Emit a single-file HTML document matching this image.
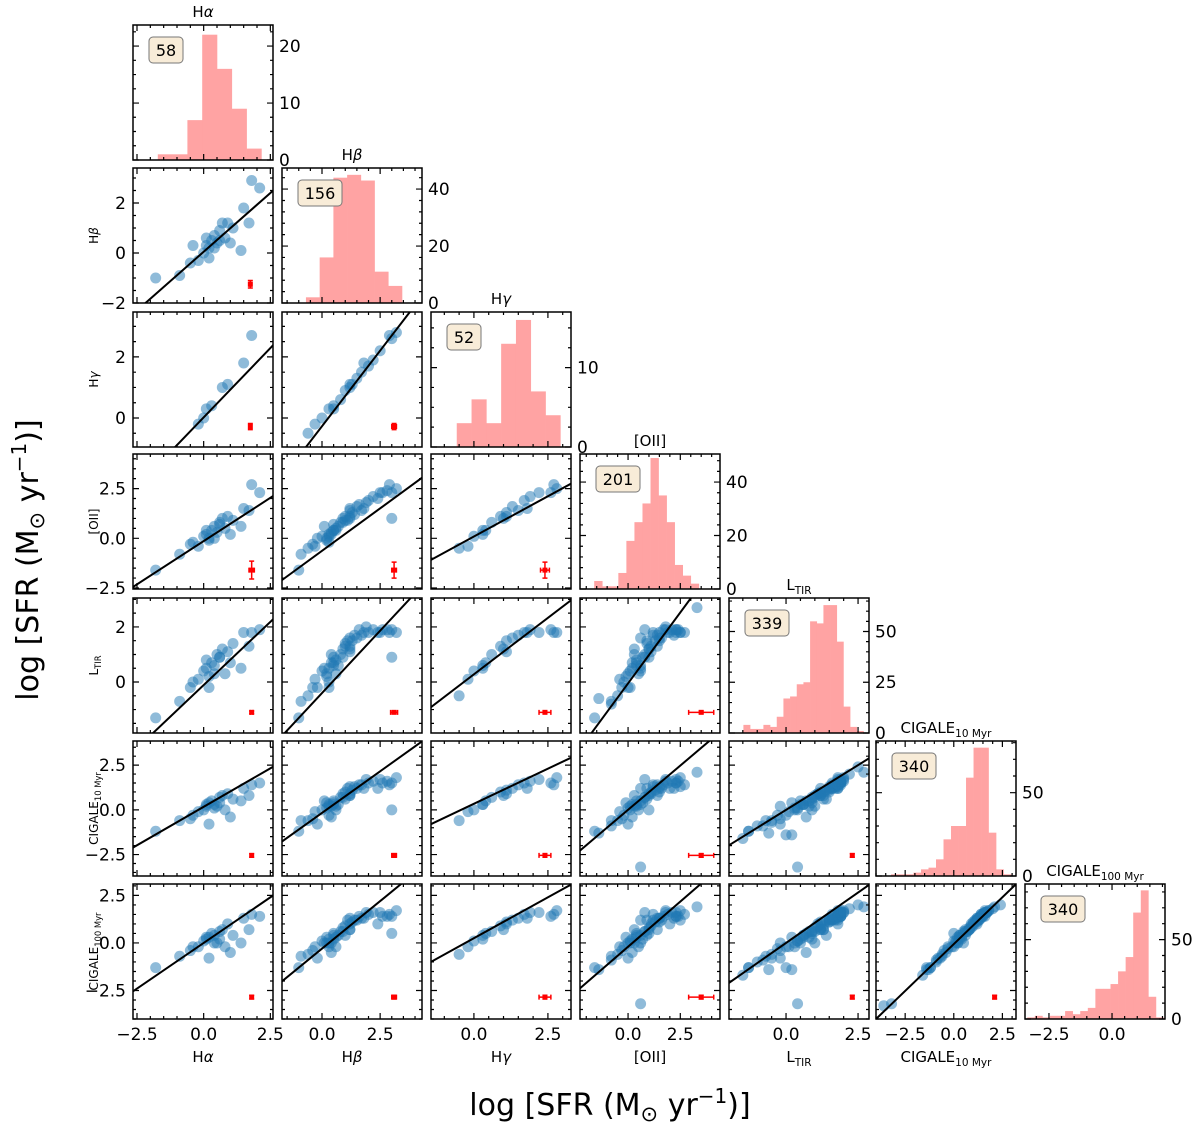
<!DOCTYPE html>
<html><head><meta charset="utf-8"><style>
html,body{margin:0;padding:0;background:#fff;}
svg{display:block;}
</style></head><body>
<svg id="fig" width="1200" height="1134" viewBox="0 0 1200 1134" xmlns="http://www.w3.org/2000/svg" font-family="'DejaVu Sans','Liberation Sans',sans-serif"></svg>
<script>
const _ = null;
// per-galaxy log SFR values for each indicator (null = not measured)
const sfrHa = [-1.8,-0.9,-0.5,-0.4,-0.2,0.0,0.1,0.2,0.2,0.3,0.4,0.5,0.6,0.7,0.8,0.9,1.0,1.1,1.4,1.5,1.7,1.8,2.1,0.4,0.1,0.6, ...Array(64).fill(_)];
const sfrHb = [-1.0,-0.9,-0.4,0.3,-0.3,0.0,0.3,0.2,-0.2,0.5,0.7,0.4,0.9,1.2,0.6,1.2,0.4,1.0,0.1,1.8,1.2,2.9,2.6,0.2,0.6,0.5,
  -0.6,0.5,0.8,1.0,1.3,1.5,1.7,2.0,2.2,2.5,3.0,3.2,1.1,1.4,0.9,1.6,2.4,1.2,0.3,2.8,3.0,1.9, ...Array(42).fill(_)];
const sfrHg = [_,_,_,_,-0.2,0.0,0.3,_,_,0.4,_,_,_,1.0,_,1.1,_,_,_,1.8,_,2.7,_,_,_,_,
  -0.5,0.3,0.6,0.9,1.1,1.3,1.5,1.7,1.9,2.2,2.6,2.8, ...Array(52).fill(_)];
const sfrOII = [-1.6,-0.8,-0.3,-0.2,-0.4,0.1,0.2,-0.1,0.0,0.4,0.6,0.3,0.8,1.0,0.5,1.1,0.2,0.9,0.6,1.5,1.4,2.7,2.3,0.0,0.4,0.7,
  -0.5,0.4,0.8,1.1,1.3,1.6,1.4,1.9,2.1,2.3,2.3,2.5,0.9,1.2,1.0,1.7,2.0,1.5,0.1,2.4,1.0,1.8,
  -1.4,-0.8,0.6,1.2,1.8,2.2,3.3,0.8,1.5,0.6,0.3,2.5, ...Array(30).fill(_)];
const sfrLTIR = [-1.3,-0.7,-0.2,0.0,0.1,0.4,0.5,0.2,-0.2,0.7,0.6,1.0,0.9,1.2,0.3,1.1,0.7,1.4,0.5,1.8,1.3,1.8,1.9,0.3,0.8,0.9,
  -0.5,0.6,1.0,1.3,1.5,1.6,1.7,1.8,1.9,1.8,1.9,1.8,1.5,1.7,1.2,1.9,1.8,1.6,-0.2,1.9,0.9,2.0,
  -0.6,-0.8,1.6,1.8,1.9,1.7,2.7,1.9,1.5,0.4,1.2,1.8,
  -1.5,-1.3,-1.0,-0.5,-0.3,0.0,0.2,0.4,0.6,0.8,1.0,1.2,1.4,1.6,1.8,2.0,2.2,2.5,1.3,1.7,1.9,1.5,
  _, 1.1,1.5,1.6,0.9,1.8,2.0,1.2];
const sfrC10 = [-1.2,-0.6,-0.5,-0.3,-0.1,0.0,0.3,0.4,-0.8,0.5,0.3,0.2,0.7,0.8,0.0,0.9,-0.4,0.6,0.5,1.2,0.8,1.4,1.5,0.1,0.2,0.4,
  -0.6,0.3,0.7,1.0,1.1,1.2,1.4,1.5,1.6,1.7,1.5,1.8,1.2,1.3,0.9,1.4,1.2,1.3,0.2,1.6,0.0,1.7,
  -1.3,-0.9,1.2,1.4,1.6,1.2,2.1,1.7,1.0,-3.2,0.8,1.3,
  -1.6,-1.2,-0.9,-0.7,-0.3,-1.4,-1.4,0.1,0.3,0.5,0.8,1.0,1.1,1.4,1.6,1.8,2.0,2.4,0.6,1.3,1.5,1.3,
  -3.6, 0.9,1.2,1.5,0.6,1.4,1.6,1.2];
const sfrC100 = [-1.3,-0.7,-0.4,-0.2,-0.2,0.1,0.2,0.3,-0.8,0.5,0.4,0.0,0.6,0.7,-0.2,1.0,-0.5,0.4,0.0,1.3,0.7,1.5,1.4,0.0,0.3,0.2,
  -0.6,0.4,0.6,0.9,1.1,1.2,1.3,1.5,1.6,1.6,1.4,1.7,1.2,1.2,0.8,1.4,1.0,1.3,0.0,1.4,0.5,1.6,
  -1.4,-0.9,1.2,1.5,1.7,1.3,1.9,1.6,1.1,-3.2,0.7,1.2,
  -1.7,-1.3,-1.0,-0.8,-0.3,-1.3,-1.4,0.1,0.3,0.6,0.8,1.0,1.2,1.4,1.6,1.7,1.8,2.0,0.7,1.3,1.5,1.3,
  -3.3, 0.9,1.2,1.5,0.6,1.4,1.6,1.1];

// histogram counts (diagonal panels)
const histHa = [1,1,7,22,16,9,2];
const histHb = [2,16,44,45,43,11,6];
const histHg = [3,6,3,13,16,7,4];
const histOII = [3,1,1,6,18,25,32,49,35,25,9,5,2];
const histLTIR = [4,2,2,4,3,8,17,18,24,25,55,54,63,63,45,13,3,1];
const histC10 = [1,1,1,2,4,5,10,22,30,30,59,77,77,26,4,1];
const histC100 = [1,2,1,2,2,5,3,5,7,19,19,22,30,39,67,81,14,1];
const histStart = [-1.72,-0.69,-0.58,-1.62,-1.48,-3.23,-3.36];
const histWidth = [0.555,0.59,0.5,0.385,0.2315,0.386,0.3];
const histN = ['58','156','52','201','339','340','340'];

// best-fit lines for lower-triangle panels
const fitSlope = [0.94, 0.907,0.99, 0.87,0.855,0.81, 0.917,0.905,0.82,1.03, 0.86,0.93,0.785,0.99,1.0, 0.96,1.0,0.86,0.95,1.06,0.985];
const fitIntercept = [0.05, 0.02,-0.27, -0.14,-0.63,0.09, -0.11,-0.40,0.28,-0.05, 0.17,-0.17,0.34,0.0,0.0, 0.0,-0.3,0.25,-0.2,0.0,-0.06];
// typical error markers
const errXval = [1.75, 1.75,3.1, 1.8,3.1,2.4, 1.8,3.1,2.4,3.5, 1.8,3.1,2.4,3.5,2.3, 1.8,3.1,2.4,3.5,2.3,2.1];
const errYval = [-1.25, -0.28,-0.28, -1.6,-1.6,-1.6, -1.1,-1.1,-1.1,-1.1, -2.55,-2.55,-2.55,-2.55,-2.55, -2.85,-2.85,-2.85,-2.85,-2.85,-2.85];
const errXerr = [0.05, 0.05,0.1, 0.1,0.1,0.15, 0.05,0.15,0.2,0.6, 0.05,0.1,0.2,0.6,0.05, 0.05,0.1,0.2,0.6,0.05,0.05];
const errYerr = [0.15, 0.1,0.1, 0.45,0.4,0.4, 0.05,0.05,0.05,0.05, 0.1,0.1,0.1,0.1,0.1, 0.1,0.1,0.1,0.1,0.1,0.1];

const series = [sfrHa,sfrHb,sfrHg,sfrOII,sfrLTIR,sfrC10,sfrC100];
const hists = [histHa,histHb,histHg,histOII,histLTIR,histC10,histC100];

// layout
const LEFT=[133,282,431,580,729,876,1025], TOP=[25,168,312,454,598,741,884], W=140, H=135;
const XR=[[-2.65,2.6],[-1.72,4.3],[-1.45,3.28],[-2.3,4.4],[-1.98,2.88],[-4.0,3.2],[-3.45,2.1]];
const YR=[null,[-2.0,3.4],[-0.95,3.47],[-2.55,4.24],[-1.85,3.05],[-3.7,3.85],[-4.0,3.1]];
const HMAX=[23.7,47.4,17,50.5,66.5,81,85];
const XMAJ=[2.5,2.5,2.5,2.5,2.5,2.5,2.5];
const YMAJ=[null,2,2,2.5,2,2.5,2.5];
const HMAJ=[10,20,10,20,25,50,50];

const NS='http://www.w3.org/2000/svg';
const svg=document.getElementById('fig');
function mk(tag,parent,attrs){const e=document.createElementNS(NS,tag);for(const k in attrs)e.setAttribute(k,attrs[k]);parent.appendChild(e);return e;}
const sx=(c,v)=>LEFT[c]+(v-XR[c][0])/(XR[c][1]-XR[c][0])*W;
const sy=(r,v)=>TOP[r]+H-(v-YR[r][0])/(YR[r][1]-YR[r][0])*H;
const hy=(r,v)=>TOP[r]+H-v/HMAX[r]*H;
function fmt(v,step){const s=(step%1!==0)?v.toFixed(1):String(Math.round(v));return s.replace('-','\u2212');}

function nameText(parent,x,y,idx,size,anchor,rot){
  const t=mk('text',parent,{x:x,y:y,'font-size':size,'text-anchor':anchor,fill:'#000'});
  if(rot) t.setAttribute('transform','rotate(-90 '+x+' '+y+')');
  const sub=(s)=>{const ts=mk('tspan',t,{'font-size':size*0.7,dy:size*0.25});ts.textContent=s;};
  if(idx===0){t.appendChild(document.createTextNode('H'));const g=mk('tspan',t,{'font-style':'italic'});g.textContent='α';}
  else if(idx===1){t.appendChild(document.createTextNode('H'));const g=mk('tspan',t,{'font-style':'italic'});g.textContent='β';}
  else if(idx===2){t.appendChild(document.createTextNode('H'));const g=mk('tspan',t,{'font-style':'italic'});g.textContent='γ';}
  else if(idx===3){t.textContent='[OII]';}
  else if(idx===4){t.appendChild(document.createTextNode('L'));sub('TIR');}
  else if(idx===5){t.appendChild(document.createTextNode('CIGALE'));sub('10 Myr');}
  else {t.appendChild(document.createTextNode('CIGALE'));sub('100 Myr');}
  return t;
}

function ticks(g,x0,y0,xmin,xmax,xmaj,ymin,ymax,ymaj,xs,ys){
  const xmin2=xmaj/5, ymin2=ymaj/(ymaj===10?4:(ymaj===2?4:5));
  let d='';
  for(let v=Math.ceil(xmin/xmin2-1e-9)*xmin2;v<=xmax+1e-9;v+=xmin2){
    const major=Math.abs(v/xmaj-Math.round(v/xmaj))<1e-6;const L=major?6:3;const px=xs(v);
    d+=`M${px},${y0+H}v${-L}M${px},${y0}v${L}`;
  }
  for(let v=Math.ceil(ymin/ymin2-1e-9)*ymin2;v<=ymax+1e-9;v+=ymin2){
    const major=Math.abs(v/ymaj-Math.round(v/ymaj))<1e-6;const L=major?6:3;const py=ys(v);
    d+=`M${x0},${py}h${L}M${x0+W},${py}h${-L}`;
  }
  const p=mk('path',g,{d:d,stroke:'#000','stroke-width':1.2,fill:'none'});
  
  
}

const defs=mk('defs',svg,{});
for(let r=0;r<7;r++){for(let c=0;c<=r;c++){
  const cp=mk('clipPath',defs,{id:`clip-${r}-${c}`});
  mk('rect',cp,{x:LEFT[c],y:TOP[r],width:W,height:H});
}}

let k=0;
for(let r=0;r<7;r++){
  for(let c=0;c<=r;c++){
    const g=mk('g',svg,{});
    const x0=LEFT[c],y0=TOP[r];
    if(r===c){
      
      
      const counts=hists[c];
      const cg=mk('g',g,{'clip-path':`url(#clip-${r}-${c})`});
      counts.forEach((n,i)=>{
        const a=histStart[c]+i*histWidth[c], b=a+histWidth[c];
        const rc=mk('rect',cg,{x:sx(c,a),y:hy(r,n),width:sx(c,b)-sx(c,a)+0.3,height:hy(r,0)-hy(r,n),fill:'#ffa3a3'});
        
        
      });
      ticks(g,x0,y0,XR[c][0],XR[c][1],XMAJ[c],0,HMAX[r],HMAJ[c],v=>sx(c,v),v=>hy(r,v));
      for(let v=0;v<=HMAX[r];v+=HMAJ[c]){
        const t=mk('text',g,{x:x0+W+6,y:hy(r,v)+6,'font-size':17});
        t.textContent=String(v);
        
        
      }
      const bw=histN[c].length*10+14;
      const box=mk('rect',g,{x:x0+16,y:y0+12,width:bw,height:26,rx:4,fill:'#f8ecd8',stroke:'#777','stroke-width':1});
      
      
      const bt=mk('text',g,{x:x0+16+bw/2,y:y0+31,'font-size':16,'text-anchor':'middle'});
      bt.textContent=histN[c];
      
      
      const tt=nameText(g,x0+W/2,y0-8,c,15,'middle',false);
      
      
    } else {
      
      
      const cg=mk('g',g,{'clip-path':`url(#clip-${r}-${c})`});
      const xs=series[c], ys=series[r];
      for(let i=0;i<xs.length;i++){
        if(xs[i]===null||ys[i]===null) continue;
        const pt=mk('circle',cg,{cx:sx(c,xs[i]),cy:sy(r,ys[i]),r:5.5,fill:'#1f77b4','fill-opacity':0.5});
        
        
      }
      const a=XR[c][0]-1,b=XR[c][1]+1;
      const ln=mk('line',cg,{x1:sx(c,a),y1:sy(r,fitSlope[k]*a+fitIntercept[k]),x2:sx(c,b),y2:sy(r,fitSlope[k]*b+fitIntercept[k]),stroke:'#000','stroke-width':2});
      
      
      const ex=sx(c,errXval[k]),ey=sy(r,errYval[k]);
      const ex1=sx(c,errXval[k]-errXerr[k]),ex2=sx(c,errXval[k]+errXerr[k]);
      const ey1=sy(r,errYval[k]+errYerr[k]),ey2=sy(r,errYval[k]-errYerr[k]);
      const eb=mk('path',g,{d:`M${ex1},${ey}H${ex2}M${ex},${ey1}V${ey2}M${ex1},${ey-2.5}v5M${ex2},${ey-2.5}v5M${ex-2.5},${ey1}h5M${ex-2.5},${ey2}h5`,stroke:'#ff0000','stroke-width':1.5,fill:'none'});
      
      
      const em=mk('rect',g,{x:ex-2.5,y:ey-2.5,width:5,height:5,fill:'#ff0000'});
      
      
      ticks(g,x0,y0,XR[c][0],XR[c][1],XMAJ[c],YR[r][0],YR[r][1],YMAJ[r],v=>sx(c,v),v=>sy(r,v));
      k++;
    }
    const fr=mk('rect',g,{x:x0,y:y0,width:W,height:H,fill:'none',stroke:'#000','stroke-width':1.5});
    
    
    if(c===0&&r>0){
      const st=YMAJ[r];
      for(let v=Math.ceil(YR[r][0]/st-1e-9)*st;v<=YR[r][1]+1e-9;v+=st){
        const t=mk('text',svg,{x:x0-7,y:sy(r,v)+6,'font-size':17,'text-anchor':'end'});
        t.textContent=fmt(v,st);
        
        
      }
      const rl=nameText(svg,98,y0+H/2,r,12,'middle',true);
      
      
    }
    if(r===6){
      const st=XMAJ[c];
      for(let v=Math.ceil(XR[c][0]/st-1e-9)*st;v<=XR[c][1]+1e-9;v+=st){
        const t=mk('text',svg,{x:sx(c,v),y:y0+H+21,'font-size':17,'text-anchor':'middle'});
        t.textContent=fmt(v,st);
        
        
      }
      if(c<6){
        const cl=nameText(svg,x0+W/2,1062,c,15,'middle',false);
        
        
      }
    }
  }
}

function bigLabel(x,y,rot){
  const t=mk('text',svg,{x:x,y:y,'font-size':30,'text-anchor':'middle'});
  if(rot) t.setAttribute('transform',`rotate(-90 ${x} ${y})`);
  t.appendChild(document.createTextNode('log [SFR (M'));
  const s=mk('tspan',t,{'font-size':21,dy:6});s.textContent='⊙';
  const s2=mk('tspan',t,{dy:-6});s2.textContent=' yr';
  const s3=mk('tspan',t,{'font-size':20,dy:-12});s3.textContent='−1';
  const s4=mk('tspan',t,{dy:12});s4.textContent=')]';
  return t;
}
const xl=bigLabel(610,1115,false);


const yl=bigLabel(38,560,true);


</script>
</body></html>
